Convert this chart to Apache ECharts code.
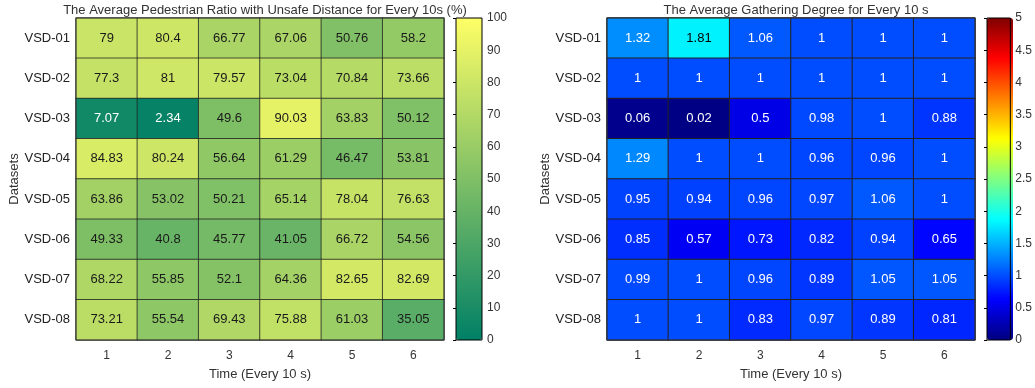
<!DOCTYPE html>
<html>
<head>
<meta charset="utf-8">
<script src="https://cdn.jsdelivr.net/npm/echarts@6/dist/echarts.min.js"></script>
<style>html,body{margin:0;padding:0;background:#fff;}#c{width:1035px;height:388px;}</style>
</head>
<body>
<div id="c"></div>
<script>
const timeLabels = ['1','2','3','4','5','6'];
const datasets = ['VSD-01','VSD-02','VSD-03','VSD-04','VSD-05','VSD-06','VSD-07','VSD-08'];
const unsafeRatio = [
  [79, 80.4, 66.77, 67.06, 50.76, 58.2],
  [77.3, 81, 79.57, 73.04, 70.84, 73.66],
  [7.07, 2.34, 49.6, 90.03, 63.83, 50.12],
  [84.83, 80.24, 56.64, 61.29, 46.47, 53.81],
  [63.86, 53.02, 50.21, 65.14, 78.04, 76.63],
  [49.33, 40.8, 45.77, 41.05, 66.72, 54.56],
  [68.22, 55.85, 52.1, 64.36, 82.65, 82.69],
  [73.21, 55.54, 69.43, 75.88, 61.03, 35.05]
];
const gatheringDegree = [
  [1.32, 1.81, 1.06, 1, 1, 1],
  [1, 1, 1, 1, 1, 1],
  [0.06, 0.02, 0.5, 0.98, 1, 0.88],
  [1.29, 1, 1, 0.96, 0.96, 1],
  [0.95, 0.94, 0.96, 0.97, 1.06, 1],
  [0.85, 0.57, 0.73, 0.82, 0.94, 0.65],
  [0.99, 1, 0.96, 0.89, 1.05, 1.05],
  [1, 1, 0.83, 0.97, 0.89, 0.81]
];
const leftTitle = 'The Average Pedestrian Ratio with Unsafe Distance for Every 10s (%)';
const rightTitle = 'The Average Gathering Degree for Every 10 s';
const xName = 'Time (Every 10 s)';
const yName = 'Datasets';

const FONT = '"Liberation Sans", Arial, Helvetica, sans-serif';
const summer = ['#008066', '#ffff66'];
const jet = ['#000080','#0000ff','#0080ff','#00ffff','#80ff80','#ffff00','#ff8000','#ff0000','#800000'];

function build(matrix, colorFn) {
  const out = [];
  matrix.forEach((row, r) => row.forEach((v, c) => {
    out.push({ value: [c, r, v], label: { color: colorFn(v) } });
  }));
  return out;
}
const leftData = build(unsafeRatio, v => v < 20 ? '#ffffff' : '#1a1a1a');
const rightData = build(gatheringDegree, v => (v > 1.6 && v < 3.6) ? '#000000' : '#ffffff');

function heatAxes(gi) {
  return {
    x: {
      type: 'category', gridIndex: gi, data: timeLabels,
      axisLine: { show: false }, axisTick: { show: false }, splitLine: { show: false },
      axisLabel: { fontFamily: FONT, fontSize: 12, color: '#333', margin: 10 },
      name: xName, nameLocation: 'middle', nameGap: 28,
      nameTextStyle: { fontFamily: FONT, fontSize: 13, color: '#333' }
    },
    y: {
      type: 'category', gridIndex: gi, data: datasets, inverse: true,
      axisLine: { show: false }, axisTick: { show: false }, splitLine: { show: false },
      axisLabel: { fontFamily: FONT, fontSize: 13, color: '#222', margin: 6 },
      name: yName, nameLocation: 'middle', nameGap: 55,
      nameTextStyle: { fontFamily: FONT, fontSize: 13, color: '#333' }
    }
  };
}
function cbarAxes(gi, min, max, interval) {
  return {
    x: { type: 'value', gridIndex: gi, show: false, min: 0, max: 1 },
    y: {
      type: 'value', gridIndex: gi, min: min, max: max, interval: interval, position: 'right', z: 10,
      axisLine: { show: false }, splitLine: { show: false },
      axisTick: { show: true, inside: true, length: 3, lineStyle: { color: '#000' } },
      axisLabel: { fontFamily: FONT, fontSize: 12, color: '#333', margin: 5 }
    }
  };
}
const a0 = heatAxes(0), a1 = cbarAxes(1, 0, 100, 10), a2 = heatAxes(2), a3 = cbarAxes(3, 0, 5, 0.5);

const option = {
  backgroundColor: '#ffffff',
  animation: false,
  title: [
    { text: leftTitle, left: 260, top: -1, textAlign: 'center',
      textStyle: { fontFamily: FONT, fontSize: 13, fontWeight: 'normal', color: '#333' } },
    { text: rightTitle, left: 791, top: -1, textAlign: 'center',
      textStyle: { fontFamily: FONT, fontSize: 13, fontWeight: 'normal', color: '#333' } }
  ],
  grid: [
    { left: 76, top: 18, width: 368, height: 322, show: true, borderColor: '#333', borderWidth: 1, backgroundColor: 'transparent', z: 5 },
    { left: 456, top: 18, width: 26, height: 322, show: true, borderColor: '#000', borderWidth: 1, backgroundColor: 'transparent', z: 6 },
    { left: 607, top: 18, width: 368, height: 322, show: true, borderColor: '#333', borderWidth: 1, backgroundColor: 'transparent', z: 5 },
    { left: 987, top: 18, width: 26, height: 322, show: true, borderColor: '#000', borderWidth: 1, backgroundColor: 'transparent', z: 6 }
  ],
  xAxis: [a0.x, a1.x, a2.x, a3.x],
  yAxis: [a0.y, a1.y, a2.y, a3.y],
  visualMap: [
    { type: 'continuous', seriesIndex: 0, min: 0, max: 100, calculable: false, hoverLink: false,
      orient: 'vertical', left: 456, top: 18, itemWidth: 26, itemHeight: 322, padding: 0,
      inRange: { color: summer }, text: null, showLabel: false },
    { type: 'continuous', seriesIndex: 1, min: 0, max: 5, calculable: false, hoverLink: false,
      orient: 'vertical', left: 987, top: 18, itemWidth: 26, itemHeight: 322, padding: 0,
      inRange: { color: jet }, text: null, showLabel: false }
  ],
  series: [
    { type: 'heatmap', xAxisIndex: 0, yAxisIndex: 0, data: leftData,
      label: { show: true, fontFamily: FONT, fontSize: 13 },
      itemStyle: { borderColor: 'rgba(30,30,30,0.75)', borderWidth: 1 },
      emphasis: { disabled: true } },
    { type: 'heatmap', xAxisIndex: 2, yAxisIndex: 2, data: rightData,
      label: { show: true, fontFamily: FONT, fontSize: 13 },
      itemStyle: { borderColor: '#222', borderWidth: 1 },
      emphasis: { disabled: true } }
  ]
};
const chart = echarts.init(document.getElementById('c'), null, { renderer: 'canvas' });
chart.setOption(option);
</script>
</body>
</html>
